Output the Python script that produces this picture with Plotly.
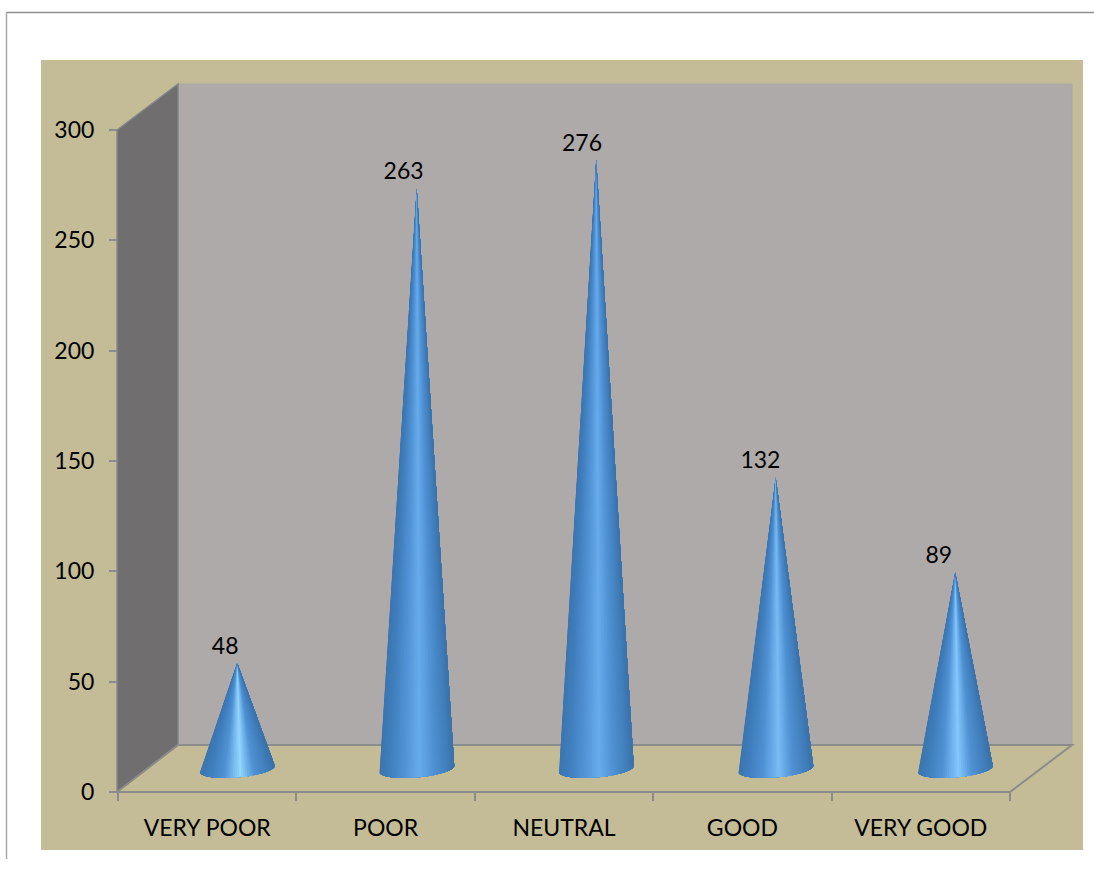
import numpy as np
import plotly.graph_objects as go

categories = ["VERY POOR", "POOR", "NEUTRAL", "GOOD", "VERY GOOD"]
values = [48, 263, 276, 132, 89]
y_ticks = [0, 50, 100, 150, 200, 250, 300]
highlights = ["#94d6ff", "#68acec", "#68acec", "#78bcf4", "#84c8ff"]

W, H = 1094, 869
L, R, T, B = 118, 1072, 84, 792
X_UNIT = 178.4
Y_UNIT = 2.207
X0, X1 = -0.5, -0.5 + (R - L) / X_UNIT
Y0, Y1 = 0, (B - T) / Y_UNIT
BASE_DX = 30 / X_UNIT
CONE_STEP = 179.5 / X_UNIT
LABEL_DX = 18 / X_UNIT
LABEL_DY = 1.5
BASE_Y = 10.5
RX = 37.5 / X_UNIT
RY = 3.9
TILT = 1.4


def px(x):
    return (x - L) / (R - L)


def py(y):
    return (B - y) / (B - T)


def poly(pts):
    return "M" + " L".join(f"{a:.4f},{b:.4f}" for a, b in pts) + " Z"


def lerp(a, b, t):
    return tuple(a[i] + (b[i] - a[i]) * t for i in range(3))


def hex2rgb(h):
    return tuple(int(h[i:i + 2], 16) for i in (1, 3, 5))


def shade(u, hi):
    stops = [(-1.0, (62, 118, 175)), (-0.8, (62, 124, 186)), (-0.35, (80, 146, 212)),
             (0.08, hex2rgb(hi)), (0.45, (80, 146, 212)), (0.85, (64, 124, 184)), (1.0, (60, 114, 168))]
    for (a, ca), (b, cb) in zip(stops, stops[1:]):
        if u <= b:
            c = lerp(ca, cb, (u - a) / (b - a))
            return "rgb(%d,%d,%d)" % c
    return "rgb(60,114,168)"


shapes = [
    dict(type="path", xref="paper", yref="paper", layer="below", path=poly(p), fillcolor=c,
         line=dict(color=lc, width=lw))
    for p, c, lc, lw in [
        ([(px(41), py(60)), (px(1083), py(60)), (px(1083), py(850)), (px(41), py(850))], "#c4bc96", "#c4bc96", 0),
        ([(px(178), py(84)), (px(1072), py(84)), (px(1072), py(745)), (px(178), py(745))], "#aeaaaa", "#aaa7a7", 1),
        ([(px(117), py(130)), (px(178), py(84)), (px(178), py(745)), (px(117), py(792))], "#706e6f", "#868686", 1.5),
        ([(px(117), py(792)), (px(178), py(745)), (px(1072), py(745)), (px(1010), py(792))], "#c4bc96", "#8c8c8c", 2),
    ]
]
shapes += [
    dict(type="line", xref="paper", yref="paper", layer="below", x0=px(6), x1=px(1094), y0=py(12.5), y1=py(12.5),
         line=dict(color="#8e8e8e", width=1.5)),
    dict(type="line", xref="paper", yref="paper", layer="below", x0=px(6.5), x1=px(6.5), y0=py(12), y1=py(859),
         line=dict(color="#a8a8a8", width=1.5)),
]

fig = go.Figure()
N = 56
for i, (v, hi) in enumerate(zip(values, highlights)):
    cx = i * CONE_STEP + BASE_DX
    ts = np.linspace(np.pi, 0, N + 1)
    # painter's order: each strip covers the rest of the cone, so no seams show
    for t1, t2 in zip(ts[:-1], ts[1:]):
        arc = np.linspace(t1, 0, max(3, int(40 * t1 / np.pi)))
        xs = cx + RX * np.cos(arc)
        ys = BASE_Y + TILT * np.cos(arc) - RY * np.sin(arc)
        col = shade(float(np.cos((t1 + t2) / 2)), hi)
        fig.add_trace(go.Scatter(
            x=[cx, *xs, cx], y=[v + BASE_Y, *ys, v + BASE_Y], mode="lines", fill="toself",
            fillcolor=col, line=dict(width=0), hoverinfo="skip", showlegend=False))

fig.add_trace(go.Scatter(
    x=[i + LABEL_DX for i in range(len(values))],
    y=[v + BASE_Y + LABEL_DY for v in values], mode="text", text=[str(v) for v in values],
    textposition="top center", textfont=dict(family="Lato", size=23, color="#000000"),
    hoverinfo="skip", showlegend=False))

fig.update_layout(
    width=W, height=H, autosize=False,
    margin=dict(l=L, r=W - R, t=T, b=H - B, pad=0),
    paper_bgcolor="#ffffff", plot_bgcolor="rgba(0,0,0,0)",
    shapes=shapes,
    font=dict(family="Lato", size=23, color="#000000"),
    xaxis=dict(range=[X0, X1], tickmode="array", tickvals=list(range(len(categories))), ticktext=categories,
               ticks="", showgrid=False, zeroline=False, showline=False, ticklabelstandoff=20,
               minor=dict(tickmode="array", tickvals=[k - 0.5 for k in range(len(categories) + 1)],
                          ticks="outside", ticklen=8, tickwidth=1.5, tickcolor="#8c8c8c", showgrid=False)),
    yaxis=dict(range=[Y0, Y1], tickmode="array", tickvals=y_ticks, ticks="outside", ticklen=8, tickwidth=1.5,
               tickcolor="#8c8c8c", showgrid=False, zeroline=False, showline=False, ticklabelstandoff=10),
)
fig.write_html("out.html", config={"displayModeBar": False}, post_script="document.body.style.margin='0';")
